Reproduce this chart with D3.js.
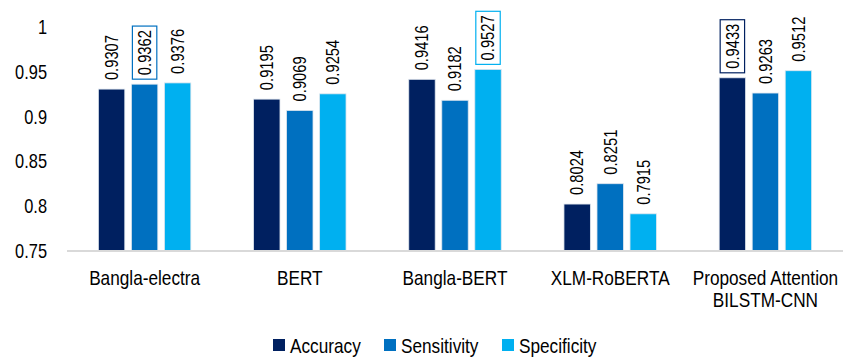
<!DOCTYPE html>
<html>
<head>
<meta charset="utf-8">
<script src="https://cdn.jsdelivr.net/npm/d3@7"></script>
<style>
  html, body { margin: 0; padding: 0; background: #fff; }
  svg text { font-family: "Liberation Sans", Arial, sans-serif; fill: #000; }
</style>
</head>
<body>
<svg id="chart" width="843" height="361"></svg>
<script>
const categories = ["Bangla-electra", "BERT", "Bangla-BERT", "XLM-RoBERTA", "Proposed Attention\nBILSTM-CNN"];
const seriesNames = ["Accuracy", "Sensitivity", "Specificity"];
const accuracy    = [0.9307, 0.9195, 0.9416, 0.8024, 0.9433];
const sensitivity = [0.9362, 0.9069, 0.9182, 0.8251, 0.9263];
const specificity = [0.9376, 0.9254, 0.9527, 0.7915, 0.9512];
const yTicks = [0.75, 0.8, 0.85, 0.9, 0.95, 1];
const yTickLabels = ["0.75", "0.8", "0.85", "0.9", "0.95", "1"];
// highlighted value labels: [category index, series index]
const boxedLabels = [[0, 1], [2, 2], [4, 0]];

const colors = ["#002060", "#0070C0", "#00B0F0"];
const series = [accuracy, sensitivity, specificity];
const NARROW = 0.82; // condensed text look

const svg = d3.select("#chart");
const margin = { left: 67, right: 0 };
const W = 843;

const x0 = d3.scaleBand().domain(categories).range([margin.left, W - margin.right]).paddingInner(0).paddingOuter(0);
const x1 = d3.scaleBand().domain(seriesNames).range([0, x0.bandwidth()]).paddingInner(0.2).paddingOuter(0.95);
const y = d3.scaleLinear().domain([0.75, 1]).range([251, 27]);

// y tick labels
svg.append("g").selectAll("text").data(yTicks).join("text")
  .attr("transform", d => `translate(47,${y(d)}) scale(${NARROW},1)`)
  .attr("dy", "0.35em")
  .attr("text-anchor", "end").attr("font-size", 20)
  .text((d, i) => yTickLabels[i]);

// bars and value labels
const groups = svg.append("g").selectAll("g").data(categories).join("g")
  .attr("transform", d => `translate(${x0(d)},0)`);

groups.each(function(cat, ci) {
  const g = d3.select(this);
  seriesNames.forEach((s, si) => {
    const v = series[si][ci];
    const bx = x1(s), bw = x1.bandwidth();
    g.append("rect")
      .attr("x", bx).attr("y", y(v))
      .attr("width", bw).attr("height", y(0.75) - y(v))
      .attr("fill", colors[si])
      .attr("stroke", "#dfe6ee").attr("stroke-width", 0.8);
    const tx = bx + bw / 2, ty = y(v) - 9;
    const label = g.append("text")
      .attr("transform", `translate(${tx},${ty}) rotate(-90) scale(${NARROW},1)`)
      .attr("dy", "0.35em")
      .attr("font-size", 18)
      .attr("text-anchor", "start")
      .text(v.toFixed(4));
    if (boxedLabels.some(b => b[0] === ci && b[1] === si)) {
      const len = label.node().getComputedTextLength() * NARROW;
      g.append("rect")
        .attr("x", bx + 1).attr("y", ty - len - 4)
        .attr("width", bw - 2).attr("height", len + 8)
        .attr("fill", "none").attr("stroke", colors[si]).attr("stroke-width", 1.2);
    }
  });
});

// baseline
svg.append("line")
  .attr("x1", margin.left).attr("x2", W)
  .attr("y1", y(0.75)).attr("y2", y(0.75))
  .attr("stroke", "#d9d9d9").attr("stroke-width", 2);

// category labels
const catLabels = svg.append("g").selectAll("g").data(categories).join("g")
  .attr("transform", d => `translate(${x0(d) + x0.bandwidth() / 2},285) scale(${NARROW},1)`);
catLabels.each(function(d) {
  d3.select(this).selectAll("text").data(d.split("\n")).join("text")
    .attr("text-anchor", "middle").attr("font-size", 21)
    .attr("y", (l, i) => i * 22.5)
    .text(l => l);
});

// legend
const legendX = [273, 384, 502];
const legend = svg.append("g").selectAll("g").data(seriesNames).join("g")
  .attr("transform", (d, i) => `translate(${legendX[i]},339)`);
legend.append("rect").attr("width", 12).attr("height", 12).attr("fill", (d, i) => colors[i]);
legend.append("text")
  .attr("transform", `translate(17,6) scale(${NARROW},1)`)
  .attr("dy", "0.36em").attr("font-size", 21).text(d => d);
</script>
</body>
</html>
